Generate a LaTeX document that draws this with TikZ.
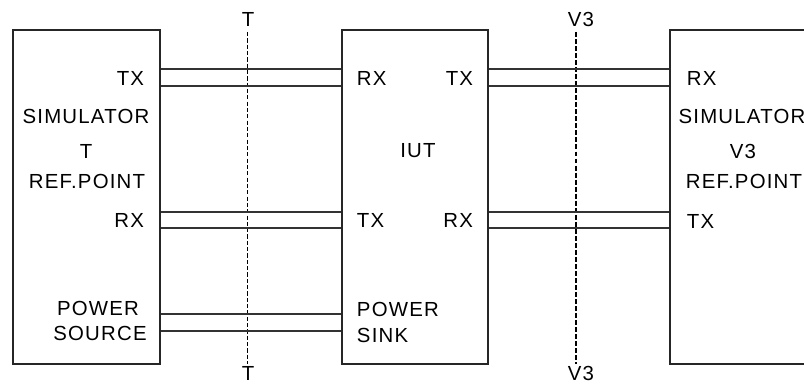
\documentclass[tikz,border=0pt]{standalone}
\usepackage{fontspec}
\setmainfont{Liberation Sans}[LetterSpace=6]
\usetikzlibrary{positioning}

\begin{document}
\begin{tikzpicture}[x=0.025cm,y=-0.025cm,font=\fontsize{14.5}{17}\selectfont,
  unit/.style={draw=black!85,line width=1pt,minimum height=8.35cm,inner sep=0pt},
  wire/.style={draw=black!80,line width=0.75pt},
  refline/.style={draw=black,line width=0.5pt,dash pattern=on 3pt off 1.5pt},
  refthick/.style={draw=black,line width=1.1pt,dash pattern=on 3.5pt off 1.5pt}]
  \useasboundingbox (0,0) rectangle (804,385);
  % boxes
  \node[unit,minimum width=3.675cm] (simT) at (86.5,197) {};
  \node[unit,minimum width=3.65cm] (iut) at (415,197) {};
  \node[unit,minimum width=4.5cm] (simV) at (760,197) {};
  % reference points
  \coordinate (Ttop) at (247,32);
  \coordinate (Tbot) at (247,364);
  \coordinate (Vtop) at (576,32);
  \coordinate (Vbot) at (576,364);
  \draw[refline] (Ttop) -- (Tbot);
  \draw[refthick] (Vtop) -- (Vbot);
  \node (Tlab1) at (248,19) {T};
  \node (Tlab2) at (248,373) {T};
  \node (Vlab1) at (581,19) {V3};
  \node (Vlab2) at (581,373) {V3};
  % double lines T side
  \draw[wire] (simT.east |- 0,69) -- (iut.west |- 0,69);
  \draw[wire] (simT.east |- 0,86) -- (iut.west |- 0,86);
  \draw[wire] (simT.east |- 0,212) -- (iut.west |- 0,212);
  \draw[wire] (simT.east |- 0,228) -- (iut.west |- 0,228);
  \draw[wire] (simT.east |- 0,314) -- (iut.west |- 0,314);
  \draw[wire] (simT.east |- 0,331) -- (iut.west |- 0,331);
  % double lines V3 side
  \draw[wire] (iut.east |- 0,69) -- (simV.west |- 0,69);
  \draw[wire] (iut.east |- 0,86) -- (simV.west |- 0,86);
  \draw[wire] (iut.east |- 0,212) -- (simV.west |- 0,212);
  \draw[wire] (iut.east |- 0,228) -- (simV.west |- 0,228);
  % simulator T
  \node[anchor=east] (sTx) at (149,78) {TX};
  \node (sName) at (86,116) {SIMULATOR};
  \node (sRef) at (86,151) {T};
  \node (sPt) at (87,181) {REF.POINT};
  \node[anchor=east] (sRx) at (149,220) {RX};
  \node (sPow) at (98,308) {POWER};
  \node (sSrc) at (100,333) {SOURCE};
  % IUT
  \node[anchor=west] (iRx) at (352,78) {RX};
  \node[anchor=east] (iTx) at (478,78) {TX};
  \node (iName) at (418,151) {IUT};
  \node[anchor=west] (iTx2) at (352,220) {TX};
  \node[anchor=east] (iRx2) at (478,220) {RX};
  \node[anchor=west] (iPow) at (352,309) {POWER};
  \node[anchor=west] (iSnk) at (352,335) {SINK};
  % simulator V3
  \node[anchor=west] (vRx) at (682,78) {RX};
  \node (vName) at (742,116) {SIMULATOR};
  \node (vRef) at (743,151) {V3};
  \node (vPt) at (744,181) {REF.POINT};
  \node[anchor=west] (vTx) at (682,221) {TX};
\end{tikzpicture}
\end{document}
